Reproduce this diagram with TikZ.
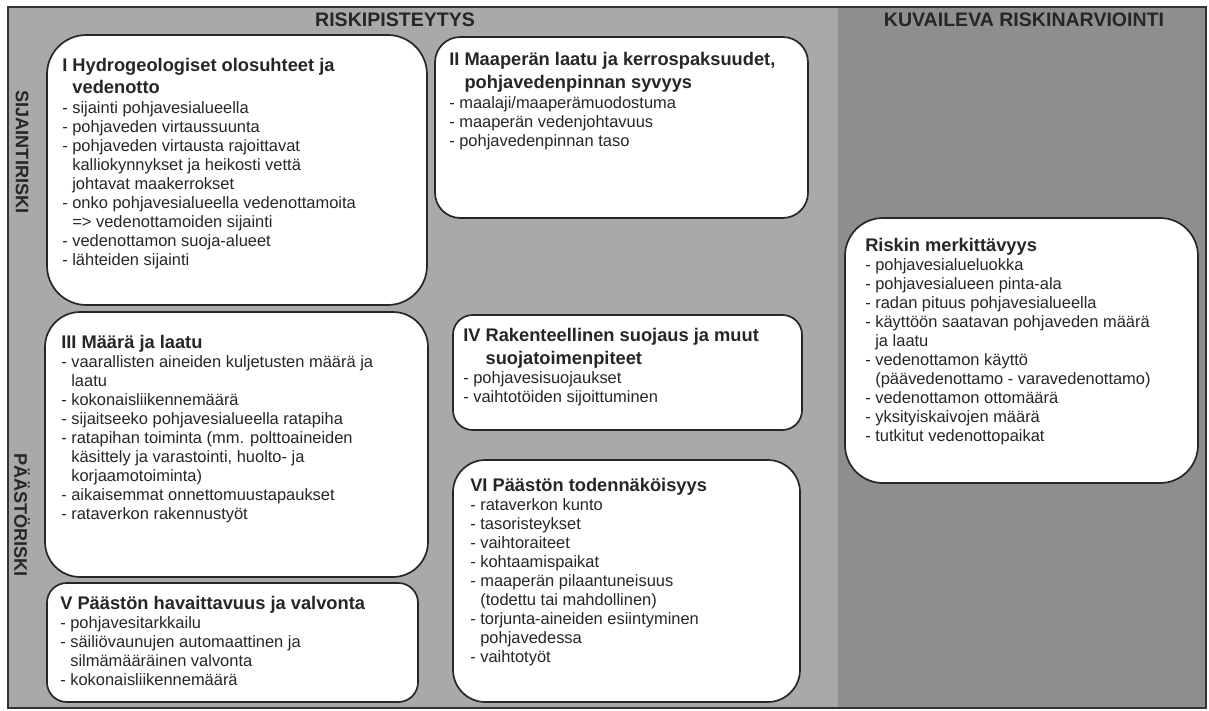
\documentclass[tikz,border=0pt]{standalone}
\usepackage{fontspec}
\setmainfont{Liberation Sans}
\definecolor{leftgrey}{HTML}{A9A9A9}
\definecolor{rightgrey}{HTML}{8E8E8E}
\newcommand\titlefont{\fontsize{13}{15}\selectfont\bfseries}
\newcommand\boxtitle[1]{{\titlefont\rule{0pt}{12pt}#1}}
\begin{document}
\begin{tikzpicture}[x=0.025cm, y=-0.025cm,
    box/.style={draw=black!85, line width=1.2pt, fill=white},
    items/.style={anchor=north west, inner sep=0pt, align=left, text=black!85,
      font=\fontsize{11.7}{13.5}\selectfont},
    head/.style={inner sep=0pt, text=black!85, font=\fontsize{13.9}{16}\selectfont\bfseries},
    side/.style={inner sep=0pt, rotate=-90, text=black!85, font=\fontsize{12.9}{15}\selectfont\bfseries}]
  \useasboundingbox (0,0) rectangle (1209,710);
  \fill [white] (0,0) rectangle (1209,710);
  \fill [leftgrey] (8,7) rectangle (838,708);
  \fill [rightgrey] (838,7) rectangle (1206,708);
  \draw [line width=1.1pt, black!80] (8,7) rectangle (1206,708);
  \node [head] (scoring) at (395,20) {RISKIPISTEYTYS};
  \node [head] (describe) at (1024,20) {KUVAILEVA RISKINARVIOINTI};
  \node [side] (location) at (22,152) {SIJAINTIRISKI};
  \node [side] (emission) at (22,515) {PÄÄSTÖRISKI};
  % I
  \draw [box, rounded corners=28pt] (47,35) rectangle (427,305);
  \node [items] (hydro) at (62,54.6) {\boxtitle{I Hydrogeologiset olosuhteet ja}\\[2pt]
    {\titlefont\phantom{I\ }vedenotto}\\[1pt]
    - sijainti pohjavesialueella\\
    - pohjaveden virtaussuunta\\
    - pohjaveden virtausta rajoittavat\\
    \phantom{-\ }kalliokynnykset ja heikosti vettä\\
    \phantom{-\ }johtavat maakerrokset\\
    - onko pohjavesialueella vedenottamoita\\
    \phantom{-\ }=> vedenottamoiden sijainti\\
    - vedenottamon suoja-alueet\\
    - lähteiden sijainti};
  % II
  \draw [box, rounded corners=18pt] (435,37) rectangle (808,218);
  \node [items] (soil) at (449,48.6) {\boxtitle{II Maaperän laatu ja kerrospaksuudet,}\\[2.5pt]
    {\titlefont\phantom{II\ }pohjavedenpinnan syvyys}\\[1pt]
    - maalaji/maaperämuodostuma\\
    - maaperän vedenjohtavuus\\
    - pohjavedenpinnan taso};
  % III
  \draw [box, rounded corners=25pt] (45,312) rectangle (428,577);
  \node [items] (amount) at (61,331.6) {\boxtitle{III Määrä ja laatu}\\
    - vaarallisten aineiden kuljetusten määrä ja\\
    \phantom{-\ }laatu\\
    - kokonaisliikennemäärä\\
    - sijaitseeko pohjavesialueella ratapiha\\
    - ratapihan toiminta (mm. polttoaineiden\\
    \phantom{-\ }käsittely ja varastointi, huolto- ja\\
    \phantom{-\ }korjaamotoiminta)\\
    - aikaisemmat onnettomuustapaukset\\
    - rataverkon rakennustyöt};
  % IV
  \draw [box, rounded corners=14pt] (453,315) rectangle (802,430);
  \node [items] (protect) at (463,324.6) {\boxtitle{IV Rakenteellinen suojaus ja muut}\\[2.5pt]
    {\titlefont\phantom{IV\ }suojatoimenpiteet}\\
    - pohjavesisuojaukset\\
    - vaihtotöiden sijoittuminen};
  % V
  \draw [box, rounded corners=14pt] (47,583) rectangle (418,702);
  \node [items] (detect) at (60,592.6) {\boxtitle{V Päästön havaittavuus ja valvonta}\\
    - pohjavesitarkkailu\\
    - säiliövaunujen automaattinen ja\\
    \phantom{-\ }silmämääräinen valvonta\\
    - kokonaisliikennemäärä};
  % VI
  \draw [box, rounded corners=23pt] (453,460) rectangle (800,702);
  \node [items] (prob) at (470,474.6) {\boxtitle{VI Päästön todennäköisyys}\\
    - rataverkon kunto\\
    - tasoristeykset\\
    - vaihtoraiteet\\
    - kohtaamispaikat\\
    - maaperän pilaantuneisuus\\
    \phantom{-\ }(todettu tai mahdollinen)\\
    - torjunta-aineiden esiintyminen\\
    \phantom{-\ }pohjavedessa\\
    - vaihtotyöt};
  % riskin merkittavyys
  \draw [box, rounded corners=27pt] (845,218) rectangle (1198,483);
  \node [items] (signif) at (865,234.6) {\boxtitle{Riskin merkittävyys}\\
    - pohjavesialueluokka\\
    - pohjavesialueen pinta-ala\\
    - radan pituus pohjavesialueella\\
    - käyttöön saatavan pohjaveden määrä\\
    \phantom{-\ }ja laatu\\
    - vedenottamon käyttö\\
    \phantom{-\ }(päävedenottamo - varavedenottamo)\\
    - vedenottamon ottomäärä\\
    - yksityiskaivojen määrä\\
    - tutkitut vedenottopaikat};
\end{tikzpicture}
\end{document}
